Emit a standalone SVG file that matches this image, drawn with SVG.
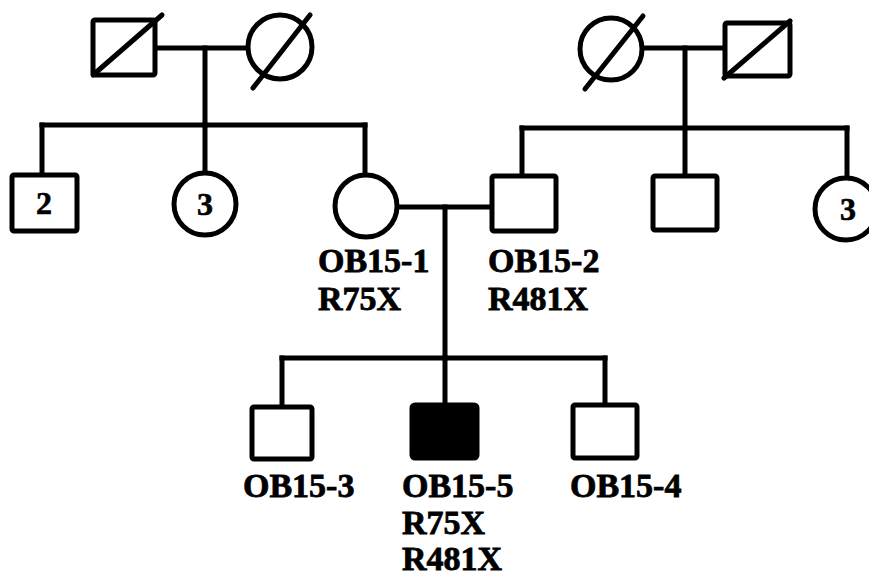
<svg xmlns="http://www.w3.org/2000/svg" width="869" height="578" viewBox="0 0 869 578">
<style>
.sym{fill:#fff;stroke:#000;stroke-width:5;stroke-linejoin:round}
.aff{fill:#000;stroke:#000;stroke-width:5;stroke-linejoin:round}
.dead{stroke:#000;stroke-width:5;stroke-linecap:round}
.ln{stroke:#000;stroke-width:5;fill:none;stroke-linecap:square}
.lbl{font-family:"Liberation Serif","Times New Roman",serif;font-weight:bold;font-size:34px;fill:#000;stroke:#000;stroke-width:0.8}
.num{font-family:"Liberation Serif","Times New Roman",serif;font-weight:bold;font-size:32px;fill:#000;text-anchor:middle;stroke:#000;stroke-width:0.6}
</style>
<rect width="869" height="578" fill="#fff"/>
<g id="connectors">
<line class="ln" x1="155" y1="48" x2="248" y2="48"/>
<line class="ln" x1="205" y1="48" x2="205" y2="125"/>
<line class="ln" x1="42" y1="125" x2="365" y2="125"/>
<line class="ln" x1="42" y1="125" x2="42" y2="175"/>
<line class="ln" x1="205" y1="125" x2="205" y2="173"/>
<line class="ln" x1="365" y1="125" x2="365" y2="175"/>
<line class="ln" x1="642" y1="48" x2="725" y2="48"/>
<line class="ln" x1="685" y1="48" x2="685" y2="128"/>
<line class="ln" x1="522" y1="128" x2="847" y2="128"/>
<line class="ln" x1="522" y1="128" x2="522" y2="175"/>
<line class="ln" x1="685" y1="128" x2="685" y2="176"/>
<line class="ln" x1="847" y1="128" x2="847" y2="178"/>
<line class="ln" x1="398" y1="207" x2="492" y2="207"/>
<line class="ln" x1="445" y1="207" x2="445" y2="358"/>
<line class="ln" x1="282" y1="358" x2="605" y2="358"/>
<line class="ln" x1="282" y1="358" x2="282" y2="407"/>
<line class="ln" x1="445" y1="358" x2="445" y2="405"/>
<line class="ln" x1="605" y1="358" x2="605" y2="405"/>
</g>
<g id="gp1">
<rect class="sym" x="93" y="20" width="62" height="55" rx="2"/>
<line class="dead" x1="93" y1="75" x2="162" y2="15"/>
</g>
<g id="gp2">
<circle class="sym" cx="280" cy="47" r="32"/>
<line class="dead" x1="253" y1="88" x2="310" y2="15"/>
</g>
<g id="gp3">
<circle class="sym" cx="611" cy="49" r="31"/>
<line class="dead" x1="585" y1="89" x2="643" y2="16"/>
</g>
<g id="gp4">
<rect class="sym" x="725" y="23" width="65" height="53" rx="2"/>
<line class="dead" x1="724" y1="78" x2="790" y2="21"/>
</g>
<g id="sib-m2">
<rect class="sym" x="12" y="175" width="65" height="56" rx="2"/>
<text class="num" x="44" y="214">2</text>
</g>
<g id="sib-f3">
<circle class="sym" cx="205" cy="204" r="31"/>
<text class="num" x="205" y="215">3</text>
</g>
<g id="OB15-1">
<circle class="sym" cx="366" cy="206" r="31"/>
<text class="lbl" x="318" y="272">OB15-1</text>
<text class="lbl" x="318" y="310">R75X</text>
</g>
<g id="OB15-2">
<rect class="sym" x="492" y="176" width="64" height="55" rx="2"/>
<text class="lbl" x="488" y="272">OB15-2</text>
<text class="lbl" x="488" y="310">R481X</text>
</g>
<g id="sib-m">
<rect class="sym" x="653" y="176" width="64" height="54" rx="2"/>
</g>
<g id="sib-f3r">
<circle class="sym" cx="846" cy="209" r="31"/>
<text class="num" x="848" y="220">3</text>
</g>
<g id="OB15-3">
<rect class="sym" x="252" y="407" width="60" height="52" rx="2"/>
<text class="lbl" x="243" y="497">OB15-3</text>
</g>
<g id="OB15-5">
<rect class="aff" x="412" y="405" width="65" height="53" rx="3"/>
<text class="lbl" x="402" y="497">OB15-5</text>
<text class="lbl" x="402" y="534">R75X</text>
<text class="lbl" x="402" y="570">R481X</text>
</g>
<g id="OB15-4">
<rect class="sym" x="573" y="405" width="64" height="53" rx="2"/>
<text class="lbl" x="570" y="497">OB15-4</text>
</g>
</svg>
